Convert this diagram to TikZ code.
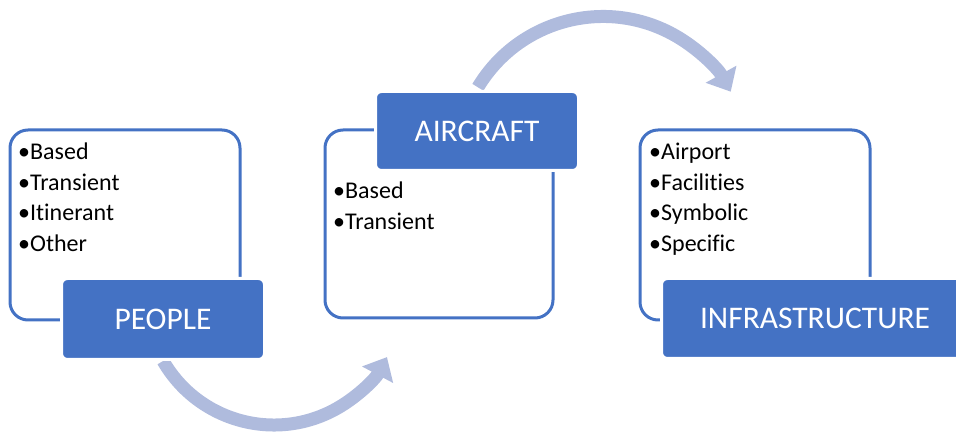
\documentclass[tikz,border=0pt]{standalone}
\usepackage{fontspec}
\setmainfont{Carlito}[Ligatures=NoCommon]
\usetikzlibrary{arrows.meta}

\definecolor{boxblue}{RGB}{68,114,196}
\definecolor{flowblue}{RGB}{175,187,221}

\tikzset{
  panel/.style={draw=boxblue, line width=3pt, rounded corners=18pt},
  tag/.style={fill=boxblue, draw=white, line width=3pt, rounded corners=6pt,
    text=white, font=\fontsize{31.5}{36}\selectfont},
  items/.style={align=left, inner sep=0pt, anchor=north west,
    font=\fontsize{24}{30.5}\selectfont},
  flow/.style={draw=flowblue, line width=13pt, -{Triangle[width=34pt,length=20pt]}}
}

\begin{document}
\begin{tikzpicture}[x=1pt,y=1pt]
  \clip (0,0) rectangle (956,433);
  % outlined panels
  \node[panel, minimum width=230pt, minimum height=190pt] (peoplepanel) at (125,208) {};
  \node[panel, minimum width=228pt, minimum height=188pt] (aircraftpanel) at (439,209) {};
  \node[panel, minimum width=230pt, minimum height=190pt] (infrapanel) at (755,208) {};
  % bullet lists
  \node[items] (peoplelist) at (18,290) {•Based\\•Transient\\•Itinerant\\•Other};
  \node[items] (aircraftlist) at (333,251) {•Based\\•Transient};
  \node[items] (infralist) at (649,290) {•Airport\\•Facilities\\•Symbolic\\•Specific};
  % curved arrows
  \coordinate (lowstart) at (163.1,72);
  \coordinate (highstart) at (477.9,345.7);
  \draw[flow] (lowstart) arc[start angle=210, end angle=332, radius=128];
  \draw[flow] (highstart) arc[start angle=149, end angle=29, radius=146];
  % filled titles
  \node[tag, minimum width=203pt, minimum height=81pt] (people) at (163,114) {PEOPLE};
  \node[tag, minimum width=203pt, minimum height=79pt] (aircraft) at (477,302) {AIRCRAFT};
  \node[tag, minimum width=307pt, minimum height=80pt] (infra) at (815,114.5) {INFRASTRUCTURE};
\end{tikzpicture}
\end{document}
